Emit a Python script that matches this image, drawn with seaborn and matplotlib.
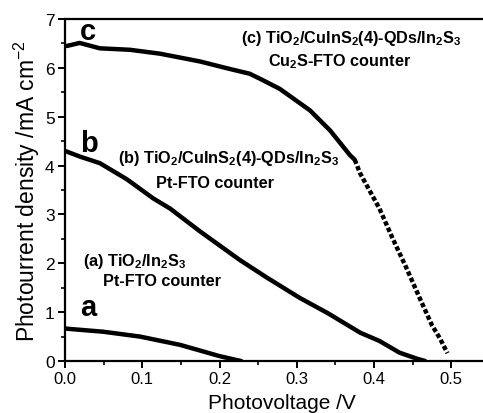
import matplotlib
matplotlib.use("Agg")
import matplotlib.pyplot as plt
import seaborn as sns
import pandas as pd
from matplotlib.ticker import MultipleLocator

# ---- data ----
a_v = [0.0, 0.003, 0.049, 0.097, 0.149, 0.2, 0.222, 0.228]
a_j = [0.67, 0.66, 0.60, 0.50, 0.33, 0.10, 0.02, 0.0]

b_v = [0.0, 0.02, 0.045, 0.08, 0.114, 0.136, 0.175, 0.226, 0.26, 0.304, 0.34, 0.382, 0.407, 0.433, 0.455, 0.466]
b_j = [4.30, 4.18, 4.05, 3.72, 3.33, 3.12, 2.65, 2.07, 1.72, 1.29, 0.98, 0.58, 0.41, 0.17, 0.05, 0.0]

c_solid_v = [0.0, 0.003, 0.019, 0.045, 0.084, 0.123, 0.175, 0.21, 0.239, 0.252, 0.278, 0.317, 0.343, 0.369, 0.375]
c_solid_j = [6.45, 6.45, 6.51, 6.40, 6.37, 6.29, 6.13, 5.99, 5.88, 5.78, 5.57, 5.13, 4.72, 4.21, 4.12]

c_dot_v = [0.375, 0.382, 0.407, 0.424, 0.442, 0.459, 0.475, 0.485, 0.495]
c_dot_j = [4.12, 3.84, 3.12, 2.51, 1.90, 1.29, 0.73, 0.47, 0.16]

x_ticks = [0.0, 0.1, 0.2, 0.3, 0.4, 0.5]
y_ticks = [0, 1, 2, 3, 4, 5, 6, 7]

sns.set_theme(style="ticks")
plt.rcParams["font.family"] = ["Liberation Sans", "DejaVu Sans"]
plt.rcParams["mathtext.fontset"] = "custom"
plt.rcParams["mathtext.rm"] = "Liberation Sans"
plt.rcParams["mathtext.it"] = "Liberation Sans"
plt.rcParams["mathtext.bf"] = "Liberation Sans:bold"
plt.rcParams["mathtext.default"] = "rm"
plt.rcParams["text.color"] = "black"
plt.rcParams["axes.labelcolor"] = "black"

fig = plt.figure(figsize=(4.83, 4.14), dpi=100)
ax = fig.add_axes([65 / 483, 1 - 362 / 414, 1 - 65 / 483, (362 - 20) / 414])

lw = 3.2
sns.lineplot(data=pd.DataFrame({"v": a_v, "j": a_j}), x="v", y="j", ax=ax,
             color="black", lw=lw, sort=False)
sns.lineplot(data=pd.DataFrame({"v": b_v, "j": b_j}), x="v", y="j", ax=ax,
             color="black", lw=lw, sort=False)
sns.lineplot(data=pd.DataFrame({"v": c_solid_v, "j": c_solid_j}), x="v", y="j", ax=ax,
             color="black", lw=lw, sort=False)
sns.lineplot(data=pd.DataFrame({"v": c_dot_v, "j": c_dot_j}), x="v", y="j", ax=ax,
             color="black", lw=lw, sort=False, dashes=False)
ax.lines[-1].set_linestyle((0, (1.0, 0.55)))
ax.lines[-1].set_dash_capstyle("butt")

ax.set_xlim(0, 0.541)
ax.set_ylim(0, 7)
ax.set_xticks(x_ticks)
ax.set_xticklabels([f"{t:.1f}" for t in x_ticks])
ax.set_yticks(y_ticks)
ax.set_yticklabels([str(t) for t in y_ticks])
ax.xaxis.set_minor_locator(MultipleLocator(0.05))
ax.yaxis.set_minor_locator(MultipleLocator(0.5))
ax.tick_params(which="major", direction="out", length=5, width=1.4,
               labelsize=12.5, color="black", labelcolor="black", pad=2.5)
ax.tick_params(which="minor", direction="out", length=3, width=1.2, color="black")
ax.tick_params(axis="x", which="major", pad=2, labelsize=12)

for side in ["left", "bottom", "top"]:
    ax.spines[side].set_linewidth(1.6)
    ax.spines[side].set_color("black")
ax.spines["right"].set_visible(False)

ax.set_xlabel("Photovoltage /V", fontsize=15, color="black", labelpad=0)
ax.xaxis.set_label_coords(0.52, -(413.5 - 362) / 342, transform=ax.transAxes)
ax.xaxis.label.set_va("bottom")
ax.set_ylabel("Photourrent density /mA cm$^{-2}$", fontsize=16.5, color="black", labelpad=2)

# curve letters
for lab, x, y in [("c", 0.019, 6.59), ("b", 0.019, 4.29), ("a", 0.019, 0.94)]:
    ax.text(x, y, lab, fontsize=21, fontweight="bold", ha="left", va="baseline", color="black")

fs = 11.7
ax.text(0.228, 6.52, r"(c) TiO$\mathbf{_2}$/CuInS$\mathbf{_2}$(4)-QDs/In$\mathbf{_2}$S$\mathbf{_3}$",
        fontsize=fs, fontweight="bold", ha="left", va="baseline")
ax.text(0.356, 6.05, r"Cu$\mathbf{_2}$S-FTO counter", fontsize=fs, fontweight="bold",
        ha="center", va="baseline")
ax.text(0.069, 4.08, r"(b) TiO$\mathbf{_2}$/CuInS$\mathbf{_2}$(4)-QDs/In$\mathbf{_2}$S$\mathbf{_3}$",
        fontsize=fs, fontweight="bold", ha="left", va="baseline")
ax.text(0.194, 3.57, "Pt-FTO counter", fontsize=fs, fontweight="bold", ha="center", va="baseline")
ax.text(0.023, 1.96, r"(a) TiO$\mathbf{_2}$/In$\mathbf{_2}$S$\mathbf{_3}$",
        fontsize=fs, fontweight="bold", ha="left", va="baseline")
ax.text(0.125, 1.55, "Pt-FTO counter", fontsize=fs, fontweight="bold", ha="center", va="baseline")

fig.savefig("out.png", dpi=100)
